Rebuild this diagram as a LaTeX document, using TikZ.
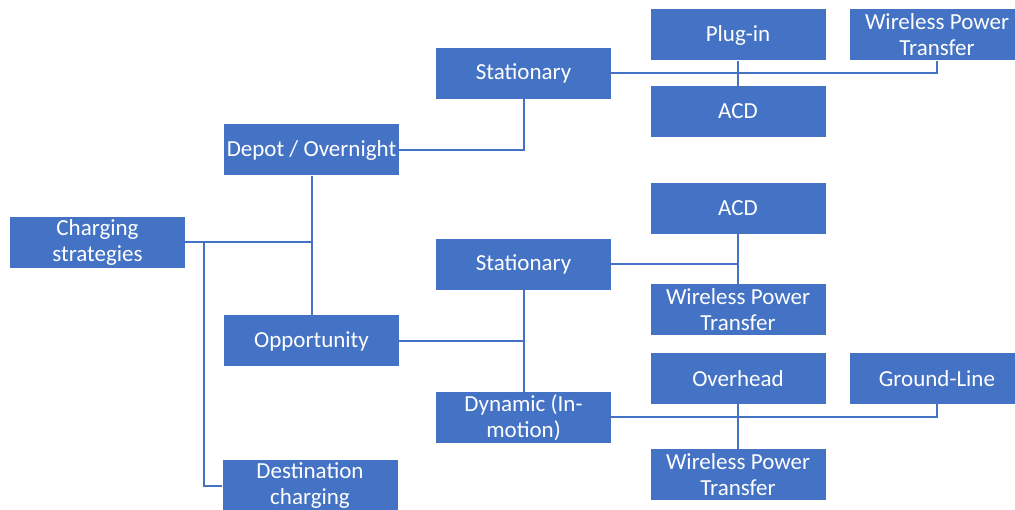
\documentclass[tikz,border=0pt]{standalone}
\usepackage{fontspec}
\setmainfont{Carlito}
\usepackage{xcolor}
\definecolor{boxblue}{HTML}{4472C4}
\tikzset{
  box/.style={fill=boxblue, text=white, minimum width=175pt, minimum height=51pt,
    inner sep=1pt, align=center, font=\fontsize{23}{26}\selectfont},
  link/.style={draw=boxblue, line width=2pt}
}

\begin{document}
\begin{tikzpicture}[x=1pt,y=-1pt]

			\useasboundingbox (0,0) rectangle (1015,510);

			\node[box] (cs) at (97.5,242.5) {Charging\\strategies};
			\node[box] (dep) at (311.5,150) {Depot / Overnight};
			\node[box] (opp) at (311.5,341) {Opportunity};
			\node[box] (dest) at (310,486) {Destination\\charging};

			\node[box] (st1) at (523.5,73.5) {Stationary};
			\node[box] (plug) at (738,35) {Plug-in};
			\node[box] (wpt1) at (937,35) {Wireless Power\\Transfer};
			\node[box] (acd1) at (738,111.5) {ACD};

			\node[box] (st2) at (523.5,264.5) {Stationary};
			\node[box] (acd2) at (738,208.5) {ACD};
			\node[box] (wpt2) at (738,310) {Wireless Power\\Transfer};

			\node[box] (dyn) at (523.5,417.5) {Dynamic (In-\\motion)};
			\node[box] (oh) at (738,378.5) {Overhead};
			\node[box] (gl) at (937,378.5) {Ground-Line};
			\node[box] (wpt3) at (738,474.5) {Wireless Power\\Transfer};

			\coordinate (split) at (204,242.5);

			\draw[link] (cs.east) -- (cs.east -| dep.south);
			\draw[link] (dep.south) -- (opp.north);
			\draw[link] (split) |- (dest.west);

			\draw[link] (dep.east) -| (st1.south);
			\draw[link] (st1.east) -| (wpt1.south);
			\draw[link] (plug.south) -- (acd1.north);

			\draw[link] (opp.east) -- (opp.east -| st2.south);
			\draw[link] (st2.south) -- (dyn.north);
			\draw[link] (st2.east) -- (st2.east -| acd2.south);
			\draw[link] (acd2.south) -- (wpt2.north);

			\draw[link] (dyn.east) -| (gl.south);
			\draw[link] (oh.south) -- (wpt3.north);

		\end{tikzpicture}
\end{document}
